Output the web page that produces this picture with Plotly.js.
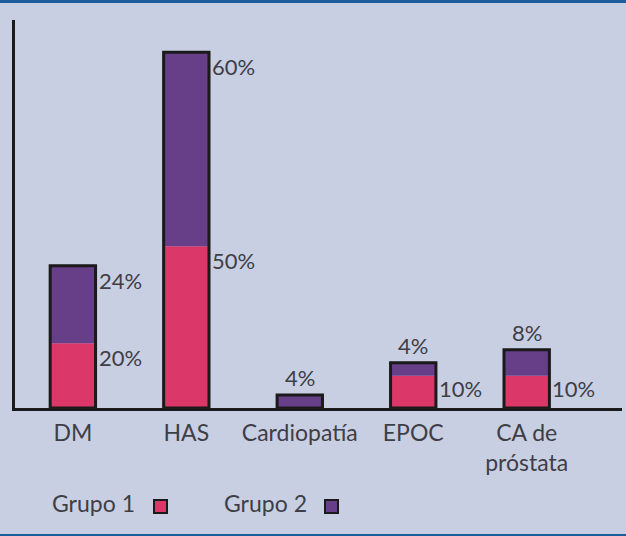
<!DOCTYPE html>
<html><head><meta charset="utf-8">
<script src="https://cdn.plot.ly/plotly-3.0.1.min.js"></script>
<style>
html,body{margin:0;padding:0;background:#c9cfe3;}
#wrap{position:relative;width:626px;height:536px;}
#chart{width:626px;height:536px;}
.bl{position:absolute;left:0;width:626px;height:3px;background:#1d5c9b;}
</style></head>
<body><div id="wrap"><div id="chart"></div><div class="bl" style="top:0"></div><div class="bl" style="bottom:0;height:2px"></div></div>
<script>
const categories = ['DM', 'HAS', 'Cardiopatía', 'EPOC', 'CA de<br>próstata'];
const grupo1 = [20, 50, 0, 10, 10];
const grupo2 = [24, 60, 4, 4, 8];
const seriesNames = ['Grupo 1', 'Grupo 2'];

const C1 = '#db3768', C2 = '#673f88', TXT = '#3e3e46';
const FONT = 'Lato, "Open Sans", sans-serif';
const idx = categories.map((c, i) => i);
const W = 0.4;
const totals = grupo1.map((v, i) => v + grupo2[i]);

const traces = [
  {type:'bar', name:seriesNames[0], x:idx, y:grupo1, width:W, marker:{color:C1, line:{width:0}}, hoverinfo:'y'},
  {type:'bar', name:seriesNames[1], x:idx, y:grupo2, base:grupo1, width:W, marker:{color:C2, line:{width:0}}, hoverinfo:'y'},
  {type:'bar', name:'outline', x:idx, y:totals, width:W, marker:{color:'rgba(0,0,0,0)', line:{width:3, color:'#1a1a1a'}}, hoverinfo:'skip', showlegend:false}
];

const ann = [];
const lf = {family:FONT, size:22, color:TXT, weight:400};
idx.forEach(i => {
  const g1 = grupo1[i], g2 = grupo2[i], t = totals[i];
  if (g2 > 0) {
    if (g2 >= 15) ann.push({x:i + W/2, y:t, text:g2 + '%', xanchor:'left', yanchor:'top', xshift:1, yshift:1, showarrow:false, font:lf});
    else ann.push({x:i, y:t, text:g2 + '%', xanchor:'center', yanchor:'bottom', yshift:2, showarrow:false, font:lf});
  }
  if (g1 > 0) {
    if (g1 >= 15) ann.push({x:i + W/2, y:g1, text:g1 + '%', xanchor:'left', yanchor:'top', xshift:1, yshift:1, showarrow:false, font:lf});
    else ann.push({x:i + W/2, y:g1/2, text:g1 + '%', xanchor:'left', yanchor:'middle', xshift:1, yshift:3, showarrow:false, font:lf});
  }
});
// custom legend (label then swatch)
const legendItems = [
  {name:seriesNames[0], color:C1, tx:0.0577, sx:0.239},
  {name:seriesNames[1], color:C2, tx:0.341, sx:0.521}
];
legendItems.forEach(it => {
  ann.push({xref:'paper', yref:'paper', x:it.tx, y:-0.245, text:it.name, xanchor:'left', yanchor:'middle', showarrow:false, font:{family:FONT, size:23, color:TXT, weight:400}});
  ann.push({xref:'paper', yref:'paper', x:it.sx, y:-0.255, text:' ', width:11, height:11, bgcolor:it.color, bordercolor:'#1a1a1a', borderwidth:2, borderpad:0, xanchor:'center', yanchor:'middle', showarrow:false, font:{size:6}});
});

const layout = {
  width:626, height:536,
  margin:{l:15, r:4, t:20, b:128, pad:0},
  paper_bgcolor:'#c9cfe3', plot_bgcolor:'#c9cfe3',
  barmode:'overlay', showlegend:false,
  font:{family:FONT, color:TXT},
  xaxis:{range:[-0.51, 4.84], tickvals:idx, ticktext:categories, showgrid:false, zeroline:false,
         showline:true, linewidth:3, linecolor:'#1a1a1a', ticks:'outside', ticklen:2, tickcolor:'rgba(0,0,0,0)',
         tickfont:{family:FONT, size:23, color:TXT, weight:400}, fixedrange:true},
  yaxis:{range:[0, 120], showgrid:false, zeroline:false, showticklabels:false, ticks:'',
         showline:true, linewidth:3, linecolor:'#1a1a1a', fixedrange:true},
  annotations:ann
};
Plotly.newPlot('chart', traces, layout, {displayModeBar:false, staticPlot:true});
</script></body></html>
